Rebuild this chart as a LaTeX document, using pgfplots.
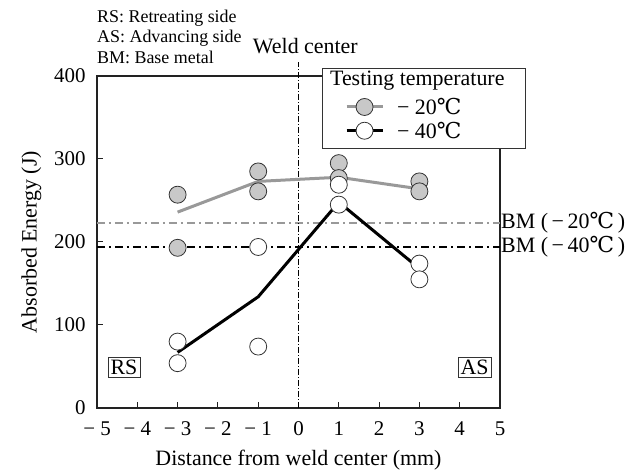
\documentclass[border=0pt]{standalone}
\usepackage{pgfplots}
\pgfplotsset{compat=1.18}
\usepackage{fontspec}
\setmainfont{Liberation Serif}
\newfontfamily\celfont{DejaVu Serif}
\newcommand{\degC}{{\celfont ℃}}
\definecolor{axisgray}{HTML}{222222}
\definecolor{linegray}{HTML}{999999}
\definecolor{markgray}{HTML}{C8C8C8}
\definecolor{edgegray}{HTML}{333333}

\begin{document}
\begin{tikzpicture}
\begin{axis}[
  scale only axis, width=403bp, height=332bp,
  xmin=-5, xmax=5, ymin=0, ymax=400,
  xtick={-5,...,5},
  xticklabels={−\ 5,−\ 4,−\ 3,−\ 2,−\ 1,0,1,2,3,4,5},
  ytick={0,100,...,400},
  tick align=inside, xtick pos=bottom, ytick pos=left,
  major tick length=6bp,
  axis line style={axisgray, line width=2bp},
  every tick/.style={axisgray, line width=1bp},
  tick label style={font=\fontsize{21}{24}\selectfont},
  xticklabel style={yshift=-10bp},
  yticklabel style={xshift=-8bp},
  /pgf/number format/assume math mode=true,
  label style={font=\fontsize{22}{25}\selectfont},
  xlabel={Distance from weld center (mm)},
  ylabel={Absorbed Energy (J)},
  xlabel style={yshift=-8bp},
  ylabel style={yshift=6bp},
  clip=false,
  legend style={draw=none, fill=none, at={(axis cs:1.15,376)}, anchor=north west,
    inner sep=0pt, row sep=2bp, font=\fontsize{22}{25}\selectfont,
    /tikz/every odd column/.append style={column sep=11bp}},
  legend cell align=left,
  legend image code/.code={\draw[mark repeat=2, mark phase=2]
    plot coordinates {(0bp,0bp) (18bp,0bp) (36bp,0bp)};},
]
\coordinate (ll) at (axis cs:-5,0);
\coordinate (ur) at (axis cs:5,400);

% base metal levels and weld center
\addplot[forget plot, linegray, line width=1.5bp, dash pattern=on 8bp off 4bp on 2bp off 4bp]
  coordinates {(-5,223) (5,223)};
\addplot[forget plot, black, line width=1.5bp, dash pattern=on 8bp off 4bp on 2bp off 4bp]
  coordinates {(-5,194) (5,194)};
\addplot[forget plot, black, line width=0.7bp, dash pattern=on 6bp off 2bp on 1bp off 2bp]
  coordinates {(0,0) (0,417)};

% mean lines
\addplot[forget plot, linegray, line width=3bp]
  coordinates {(-3,236) (-1,273) (1,278) (3,264)};
\addplot[forget plot, black, line width=3bp]
  coordinates {(-3,67) (-1,134) (1,248) (3,168)};

% individual results
\addplot[forget plot, only marks, mark=*, mark size=8.5bp,
  mark options={fill=markgray, draw=edgegray, line width=0.8bp}]
  coordinates {(-3,257) (-3,193) (-1,285) (-1,261) (1,295) (1,277) (3,273) (3,261)};
\addplot[forget plot, only marks, mark=*, mark size=8.5bp,
  mark options={fill=white, draw=edgegray, line width=0.8bp}]
  coordinates {(-3,80) (-3,54) (-1,194) (-1,74) (1,269) (1,245) (3,174) (3,155)};

% legend frame and title
\node[draw=edgegray, line width=1bp, fill=white, anchor=north west,
  minimum width=203bp, minimum height=80bp, inner sep=0pt]
  at (axis cs:0.583,409.6) {};
\node[anchor=base west, inner sep=0pt, font=\fontsize{22}{25}\selectfont]
  at (axis cs:0.78,389) {Testing temperature};

\addlegendimage{linegray, line width=3bp, mark=*, mark size=8.5bp,
  mark options={fill=markgray, draw=edgegray, line width=0.8bp}}
\addlegendentry{−\ 20\degC}
\addlegendimage{black, line width=3bp, mark=*, mark size=8.5bp,
  mark options={fill=white, draw=edgegray, line width=0.8bp}}
\addlegendentry{−\ 40\degC}

% annotations
\node[draw=edgegray, line width=0.8bp, inner sep=2.5bp, font=\fontsize{22}{25}\selectfont]
  at (axis cs:-4.33,49) {RS};
\node[draw=edgegray, line width=0.8bp, inner sep=2.5bp, font=\fontsize{22}{25}\selectfont]
  at (axis cs:4.37,49) {AS};
\node[anchor=west, inner sep=1bp, font=\fontsize{22}{25}\selectfont]
  at (axis cs:5,223) {BM (\,−\,20\degC\,)};
\node[anchor=west, inner sep=1bp, font=\fontsize{22}{25}\selectfont]
  at (axis cs:5,194) {BM (\,−\,40\degC\,)};
\node[anchor=base, inner sep=0pt, font=\fontsize{22}{25}\selectfont]
  at (axis cs:0.17,427.7) {Weld center};
\node[anchor=base west, inner sep=0pt, font=\fontsize{18}{21}\selectfont]
  at (axis cs:-5,463.9) {RS: Retreating side};
\node[anchor=base west, inner sep=0pt, font=\fontsize{18}{21}\selectfont]
  at (axis cs:-5,439.8) {AS: Advancing side};
\node[anchor=base west, inner sep=0pt, font=\fontsize{18}{21}\selectfont]
  at (axis cs:-5,414.5) {BM: Base metal};
\end{axis}
\pgfresetboundingbox
\useasboundingbox ([shift={(-97bp,-65bp)}]ll) rectangle ([shift={(135bp,76bp)}]ur);
\end{tikzpicture}
\end{document}
